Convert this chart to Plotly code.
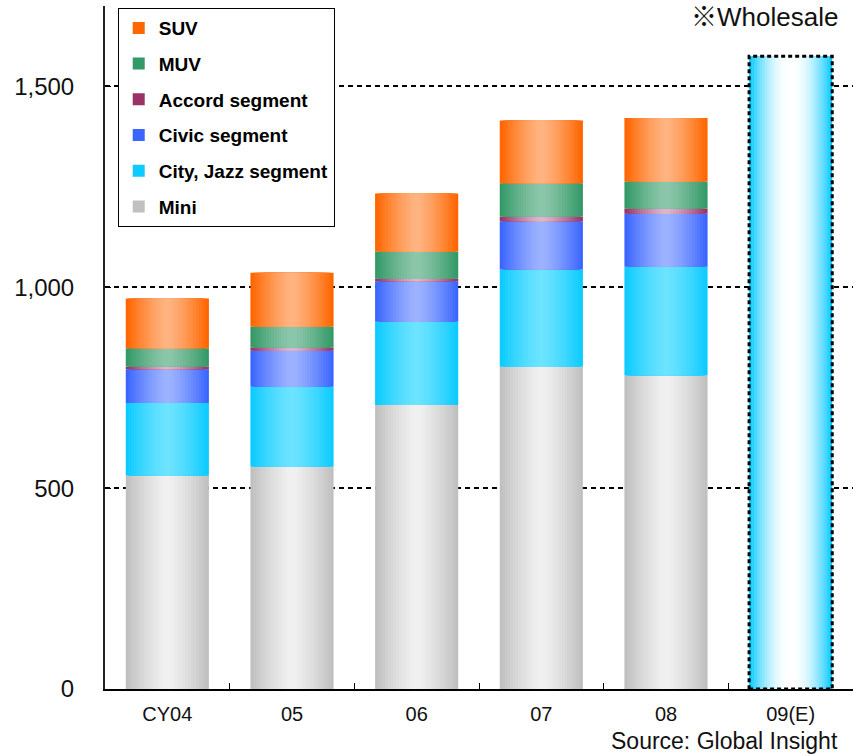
import numpy as np
import plotly.graph_objects as go

# Honda unit sales by segment (thousand units)
years = ["CY04", "05", "06", "07", "08"]
estimate_year = "09(E)"
categories = years + [estimate_year]

mini = [531, 553, 707, 802, 780]
city_jazz = [181, 199, 207, 242, 271]
civic = [84, 90, 101, 120, 132]
accord = [7, 8, 6, 12, 13]
muv = [45, 52, 68, 83, 67]
suv = [124, 134, 144, 156, 158]
wholesale_estimate = [1575]

series_names = ["Mini", "City, Jazz segment", "Civic segment",
                "Accord segment", "MUV", "SUV"]
series_values = [mini, city_jazz, civic, accord, muv, suv]

# edge colour -> centre highlight colour for the cylinder-like shading
series_colors = [
    ("#C0C0C0", "#F0F0F0"),
    ("#0DCBFF", "#6CE3FF"),
    ("#3A66FF", "#9CB2FF"),
    ("#993366", "#DDB4CC"),
    ("#339966", "#8CC6AA"),
    ("#FF6600", "#FFB380"),
]
estimate_colors = ("#0DCBFF", "#FFFFFF")

BAR_W = 0.667
LAYERS = 16
FONT = "Liberation Sans, Arial, sans-serif"


def hex_rgb(h):
    h = h.lstrip("#")
    return np.array([int(h[i:i + 2], 16) for i in (0, 2, 4)], dtype=float)


def mix(c0, c1, t):
    c = hex_rgb(c0) * (1 - t) + hex_rgb(c1) * t
    return "rgb(%d,%d,%d)" % tuple(np.round(c).astype(int))


def shaded_bars(x, y, base, edge, centre, name, legend, rank=None, ease=1.0):
    """Stack of progressively narrower bars giving a horizontal gradient."""
    traces = []
    for k in range(LAYERS):
        t = k / (LAYERS - 1)
        t = 1 - (1 - t) ** ease
        w = BAR_W * (1 - k / LAYERS)
        traces.append(go.Bar(
            x=x, y=y, base=base, width=w,
            marker=dict(color=mix(edge, centre, t), line=dict(width=0)),
            name=name, legendgroup=name,
            showlegend=(legend and k == 0),
            legendrank=rank if rank is not None else 1000,
            hoverinfo="skip",
        ))
    return traces


fig = go.Figure()

bases = np.zeros(len(years))
n_series = len(series_names)
for i, (name, vals, (edge, centre)) in enumerate(
        zip(series_names, series_values, series_colors)):
    vals = np.array(vals, dtype=float)
    for tr in shaded_bars(years, vals, bases.copy(), edge, centre, name, True,
                          rank=n_series - i, ease=1.3):
        fig.add_trace(tr)
    bases = bases + vals

totals = bases

# forecast wholesale bar
for tr in shaded_bars([estimate_year], wholesale_estimate, [0], *estimate_colors,
                      "Wholesale", False, ease=1.9):
    fig.add_trace(tr)

# dashed outline around the forecast bar
est_idx = categories.index(estimate_year)
fig.add_shape(type="rect", xref="x", yref="y",
              x0=est_idx - BAR_W / 2, x1=est_idx + BAR_W / 2,
              y0=0, y1=wholesale_estimate[0],
              line=dict(color="black", width=3, dash="4px,3px"),
              fillcolor="rgba(0,0,0,0)", layer="above")

# total label on the latest actual year
fig.add_annotation(x=years[-1], y=totals[-1], text=f"{int(totals[-1]):,}",
                   showarrow=False, yanchor="bottom", yshift=3,
                   font=dict(size=23, color="#111", family=FONT))

fig.add_annotation(xref="paper", yref="paper", x=0.983, y=0.984,
                   text="※Wholesale", showarrow=False,
                   xanchor="right", yanchor="middle",
                   font=dict(size=26, color="#111",
                             family="Liberation Sans, Noto Sans CJK JP, sans-serif"))

fig.add_annotation(xref="paper", yref="paper", x=0.983, y=-0.0985,
                   text="Source: Global Insight", showarrow=False,
                   xanchor="right", yanchor="bottom",
                   font=dict(size=23, color="#111", family=FONT))

fig.update_layout(
    width=854, height=756,
    margin=dict(l=105, r=1, t=6, b=67),
    barmode="overlay",
    plot_bgcolor="white", paper_bgcolor="white",
    font=dict(family=FONT, color="#111"),
    showlegend=True,
    legend=dict(
        x=0.017, y=0.997, xanchor="left", yanchor="top",
        bgcolor="white", bordercolor="black", borderwidth=1,
        font=dict(size=19, family=FONT, color="black", weight="bold"),
        traceorder="grouped", tracegroupgap=8,
        itemclick=False, itemdoubleclick=False,
    ),
    xaxis=dict(
        type="category", categoryorder="array", categoryarray=categories,
        range=[-0.5, len(categories) - 0.5],
        showline=True, linecolor="black", linewidth=2,
        ticks="inside", tickson="boundaries", ticklen=6, tickcolor="black",
        tickfont=dict(size=20, family=FONT, color="#111"),
        ticklabelstandoff=6, showgrid=False,
    ),
    yaxis=dict(
        range=[0, 1700], tickvals=[0, 500, 1000, 1500], tickformat=",d",
        showline=True, linecolor="#222", linewidth=2,
        ticks="inside", ticklen=6, tickcolor="black",
        tickfont=dict(size=24, family=FONT, color="#111"),
        ticklabelstandoff=24,
        showgrid=True, gridcolor="black", gridwidth=2, griddash="5px,4px",
        zeroline=False,
    ),
)

fig.write_html("out.html")
